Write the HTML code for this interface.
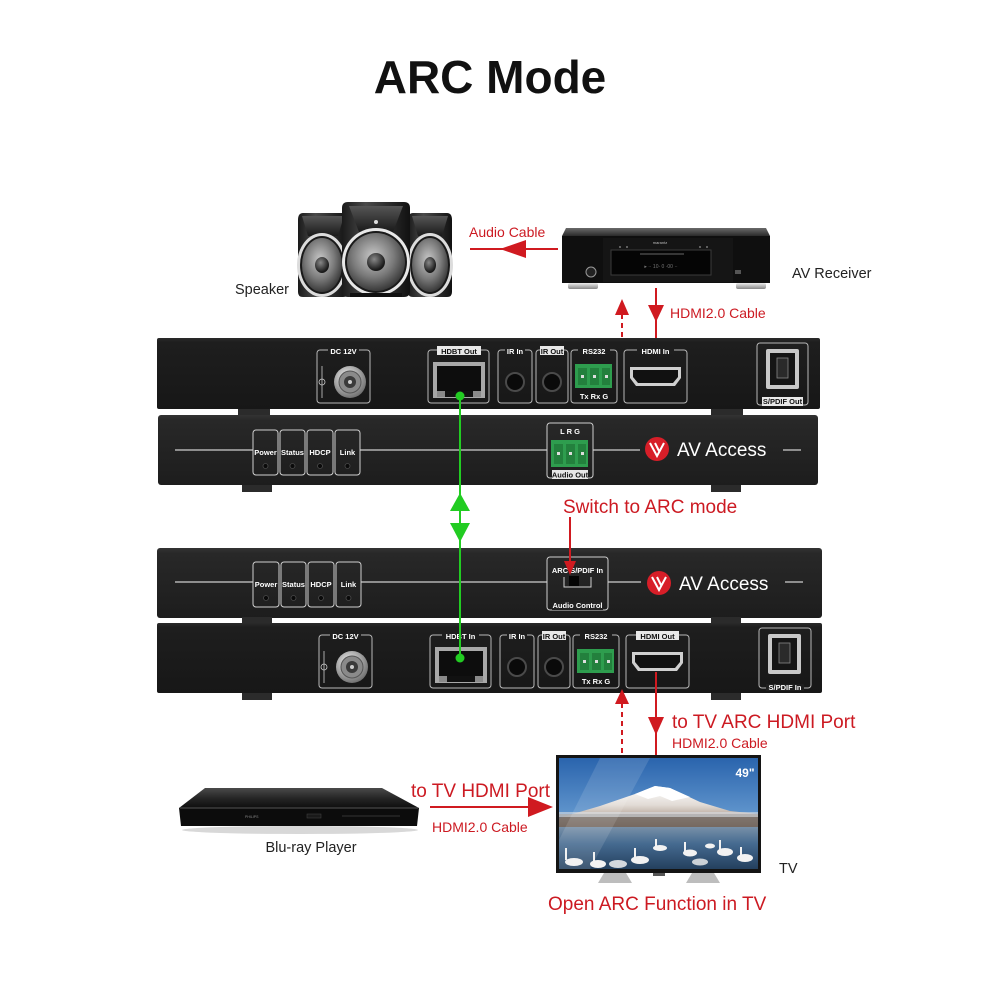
<!DOCTYPE html>
<html><head><meta charset="utf-8"><style>
html,body{margin:0;padding:0;background:#fff;}
svg{display:block;}
text{font-family:"Liberation Sans",Arial,sans-serif;}
.lb{font-family:"Liberation Sans Narrow","Liberation Sans",Arial,sans-serif;font-weight:bold;fill:#fff;font-size:7.5px;}
.lbd{font-family:"Liberation Sans Narrow","Liberation Sans",Arial,sans-serif;font-weight:bold;fill:#111;font-size:7.5px;}
.red{fill:#cc1a22;}
</style></head><body>
<svg width="1000" height="1000" viewBox="0 0 1000 1000" xmlns="http://www.w3.org/2000/svg">
<defs>
<linearGradient id="spk" x1="0" y1="0" x2="1" y2="0">
<stop offset="0" stop-color="#1a1a1a"/><stop offset="0.35" stop-color="#4a4a4a"/><stop offset="0.7" stop-color="#2a2a2a"/><stop offset="1" stop-color="#111"/>
</linearGradient>
<radialGradient id="cone" cx="0.45" cy="0.4" r="0.6">
<stop offset="0" stop-color="#c8c8c8"/><stop offset="0.6" stop-color="#7a7a7a"/><stop offset="1" stop-color="#3a3a3a"/>
</radialGradient>
<radialGradient id="dome" cx="0.4" cy="0.35" r="0.6">
<stop offset="0" stop-color="#888"/><stop offset="1" stop-color="#1a1a1a"/>
</radialGradient>
<linearGradient id="horn" x1="0" y1="0" x2="0" y2="1">
<stop offset="0" stop-color="#555"/><stop offset="1" stop-color="#1a1a1a"/>
</linearGradient>
<linearGradient id="silver" x1="0" y1="0" x2="0" y2="1">
<stop offset="0" stop-color="#eee"/><stop offset="1" stop-color="#888"/>
</linearGradient>
<radialGradient id="jack" cx="0.4" cy="0.35" r="0.7">
<stop offset="0" stop-color="#f0f0f0"/><stop offset="1" stop-color="#6a6a6a"/>
</radialGradient>
<linearGradient id="back" x1="0" y1="0" x2="0" y2="1">
<stop offset="0" stop-color="#2a2a2a"/><stop offset="0.06" stop-color="#1e1e1e"/><stop offset="1" stop-color="#171717"/>
</linearGradient>
<linearGradient id="front" x1="0" y1="0" x2="0" y2="1">
<stop offset="0" stop-color="#333"/><stop offset="0.08" stop-color="#282828"/><stop offset="1" stop-color="#1d1d1d"/>
</linearGradient>
<linearGradient id="sky" x1="0" y1="0" x2="0" y2="1">
<stop offset="0" stop-color="#2a64ad"/><stop offset="0.5" stop-color="#5f94cc"/><stop offset="1" stop-color="#b4cde3"/>
</linearGradient>
<linearGradient id="water" x1="0" y1="0" x2="0" y2="1">
<stop offset="0" stop-color="#7890a8"/><stop offset="0.4" stop-color="#456a90"/><stop offset="1" stop-color="#24405e"/>
</linearGradient>
<linearGradient id="mtn" x1="0" y1="0" x2="0" y2="1">
<stop offset="0" stop-color="#ffffff"/><stop offset="0.45" stop-color="#e2dcd6"/><stop offset="1" stop-color="#8a6e5c"/>
</linearGradient>
<linearGradient id="bluray" x1="0" y1="0" x2="0" y2="1">
<stop offset="0" stop-color="#4a4a4a"/><stop offset="0.5" stop-color="#262626"/><stop offset="1" stop-color="#0e0e0e"/>
</linearGradient>
<linearGradient id="recTop" x1="0" y1="0" x2="0" y2="1">
<stop offset="0" stop-color="#6a6a6a"/><stop offset="1" stop-color="#2a2a2a"/>
</linearGradient>
</defs>

<!-- Title -->
<text x="490" y="93" font-size="46" font-weight="bold" text-anchor="middle" fill="#111">ARC Mode</text>

<!-- Speakers -->
<g>
<path d="M303,213 H343 Q348,213 348,220 V292 Q348,297 343,297 H303 Q298,297 298,292 V220 Q298,213 303,213 Z" fill="url(#spk)"/>
<polygon points="302,216 344,216 338,236 308,236" fill="url(#horn)"/>
<ellipse cx="322" cy="265" rx="25" ry="32" fill="#dcdcdc"/>
<ellipse cx="322" cy="265" rx="22" ry="29" fill="#1a1a1a"/>
<ellipse cx="322" cy="265" rx="20" ry="27" fill="url(#cone)"/>
<ellipse cx="322" cy="265" rx="7" ry="8" fill="url(#dome)"/>

<path d="M413,213 H447 Q452,213 452,220 V292 Q452,297 447,297 H413 Q408,297 408,292 V220 Q408,213 413,213 Z" fill="url(#spk)"/>
<polygon points="412,216 448,216 442,236 418,236" fill="url(#horn)"/>
<ellipse cx="430" cy="265" rx="23" ry="32" fill="#dcdcdc"/>
<ellipse cx="430" cy="265" rx="20" ry="29" fill="#1a1a1a"/>
<ellipse cx="430" cy="265" rx="18" ry="27" fill="url(#cone)"/>
<ellipse cx="430" cy="265" rx="6" ry="8" fill="url(#dome)"/>

<path d="M348,202 H404 Q410,202 410,208 V291 Q410,297 404,297 H348 Q342,297 342,291 V208 Q342,202 348,202 Z" fill="url(#spk)"/>
<polygon points="349,206 403,206 393,232 359,232" fill="url(#horn)"/>
<circle cx="376" cy="222" r="2" fill="#ddd"/>
<circle cx="376" cy="262" r="34" fill="#e8e8e8"/>
<circle cx="376" cy="262" r="31" fill="#1a1a1a"/>
<circle cx="376" cy="262" r="29" fill="url(#cone)"/>
<circle cx="376" cy="262" r="9" fill="url(#dome)"/>
<rect x="350" y="293" width="52" height="4" fill="#111"/>
</g>
<text x="235" y="294" font-size="14.5" fill="#222">Speaker</text>

<!-- Audio cable arrow -->
<line x1="470" y1="249" x2="558" y2="249" stroke="#d01a20" stroke-width="2"/>
<polygon points="500,249 526,240 526,258" fill="#d01a20"/>
<text x="469" y="237" font-size="14" class="red">Audio Cable</text>

<!-- AV Receiver -->
<g>
<polygon points="566,228 766,228 770,236 562,236" fill="url(#recTop)"/>
<rect x="562" y="236" width="208" height="47" fill="#0f0f0f"/>
<rect x="603" y="238" width="130" height="44" fill="#151515"/>
<rect x="611" y="250" width="100" height="25" fill="#050505" stroke="#3a3a3a" stroke-width="1"/>
<line x1="640" y1="254" x2="684" y2="254" stroke="#666" stroke-width="1"/>
<text x="660" y="244" font-size="4" fill="#bbb" text-anchor="middle">marantz</text>
<text x="661" y="268" font-size="5" fill="#777" text-anchor="middle">▸ ·· 10·  0 ·00 ··</text>
<circle cx="591" cy="272" r="5" fill="#222" stroke="#999" stroke-width="1"/>
<circle cx="620" cy="247" r="1" fill="#777"/><circle cx="627" cy="247" r="1" fill="#777"/>
<circle cx="700" cy="247" r="1" fill="#777"/><circle cx="707" cy="247" r="1" fill="#777"/>
<rect x="735" y="270" width="6" height="4" fill="#555"/>
<rect x="568" y="283" width="30" height="6" rx="2" fill="url(#silver)"/>
<rect x="736" y="283" width="30" height="6" rx="2" fill="url(#silver)"/>
</g>
<text x="792" y="278" font-size="14.5" fill="#222">AV Receiver</text>

<!-- HDMI arrow from receiver -->
<line x1="656" y1="288" x2="656" y2="376" stroke="#d01a20" stroke-width="2"/>
<polygon points="648,305 664,305 656,322" fill="#d01a20"/>
<text x="670" y="318" font-size="14" class="red">HDMI2.0 Cable</text>
<line x1="622" y1="314" x2="622" y2="376" stroke="#d01a20" stroke-width="2" stroke-dasharray="5,4"/>
<polygon points="622,299 615,315 629,315" fill="#d01a20"/>

<!-- ===== Device 1 back ===== -->
<rect x="157" y="338" width="663" height="71" rx="2" fill="url(#back)"/>
<rect x="238" y="409" width="32" height="6" fill="#2b2b2b"/>
<rect x="711" y="409" width="32" height="6" fill="#2b2b2b"/>
<g fill="none" stroke="#b8b8b8" stroke-width="1">
<rect x="317" y="350" width="53" height="53" rx="3"/>
<rect x="428" y="350" width="61" height="53" rx="3"/>
<rect x="498" y="350" width="34" height="53" rx="3"/>
<rect x="536" y="350" width="32" height="53" rx="3"/>
<rect x="571" y="350" width="46" height="53" rx="3"/>
<rect x="624" y="350" width="63" height="53" rx="3"/>
<rect x="757" y="343" width="51" height="62" rx="3"/>
</g>
<rect x="328" y="347" width="31" height="7" fill="#1e1e1e"/><text x="343.5" y="354" class="lb" text-anchor="middle">DC 12V</text>
<rect x="437" y="346" width="44" height="9" fill="#e8e8e8"/><text x="459" y="354" class="lbd" text-anchor="middle">HDBT Out</text>
<rect x="505" y="347" width="20" height="7" fill="#1e1e1e"/><text x="515" y="354" class="lb" text-anchor="middle">IR In</text>
<rect x="540" y="346" width="24" height="9" fill="#e8e8e8"/><text x="552" y="354" class="lbd" text-anchor="middle">IR Out</text>
<rect x="578" y="347" width="32" height="7" fill="#1e1e1e"/><text x="594" y="354" class="lb" text-anchor="middle">RS232</text>
<rect x="637" y="347" width="37" height="7" fill="#1e1e1e"/><text x="655.5" y="354" class="lb" text-anchor="middle">HDMI In</text>
<rect x="762" y="397" width="41" height="9" fill="#e8e8e8"/><text x="782.5" y="404" class="lbd" text-anchor="middle">S/PDIF Out</text>
<line x1="322" y1="366" x2="322" y2="398" stroke="#ccc" stroke-width="0.8"/>
<circle cx="322" cy="382" r="3" fill="none" stroke="#ccc" stroke-width="0.8"/>
<circle cx="350" cy="382" r="16" fill="url(#jack)"/>
<circle cx="350" cy="382" r="11" fill="#8a8a8a" stroke="#555"/>
<circle cx="350" cy="382" r="6" fill="#3a3a3a"/>
<circle cx="350" cy="382" r="2" fill="#ccc"/>
<rect x="433" y="362" width="52" height="36" fill="#a8a8a8"/>
<rect x="437" y="366" width="44" height="25" fill="#0d0d0d"/>
<rect x="437" y="391" width="8" height="6" fill="#8a8a8a"/>
<rect x="473" y="391" width="8" height="6" fill="#8a8a8a"/>
<rect x="445" y="391" width="28" height="6" fill="#111"/>
<circle cx="515" cy="382" r="9" fill="#0a0a0a" stroke="#4a4a4a" stroke-width="2"/>
<circle cx="552" cy="382" r="9" fill="#0a0a0a" stroke="#4a4a4a" stroke-width="2"/>
<rect x="575" y="364" width="37" height="24" fill="#2e9d4e"/>
<rect x="578" y="368" width="9" height="17" fill="#23803d"/><rect x="590" y="368" width="9" height="17" fill="#23803d"/><rect x="602" y="368" width="8" height="17" fill="#23803d"/>
<rect x="581" y="375" width="3" height="3" fill="#ddd"/><rect x="593" y="375" width="3" height="3" fill="#ddd"/><rect x="605" y="375" width="3" height="3" fill="#ddd"/>
<text x="594" y="399" class="lb" font-size="6.5" text-anchor="middle">Tx  Rx  G</text>
<path d="M630,367 H681 V378 L675,386 H636 L630,378 Z" fill="#cfcfcf"/>
<path d="M633,370 H678 V377 L673,383 H638 L633,377 Z" fill="#111"/>
<rect x="766" y="349" width="33" height="40" rx="2" fill="#c8c8c8"/>
<rect x="770" y="353" width="25" height="32" fill="#151515"/>
<rect x="777" y="358" width="11" height="20" fill="#2a2a2a" stroke="#888" stroke-width="0.8"/>

<!-- ===== Device 1 front ===== -->
<rect x="158" y="415" width="660" height="70" rx="3" fill="url(#front)"/>
<rect x="242" y="485" width="30" height="7" fill="#2b2b2b"/>
<rect x="711" y="485" width="30" height="7" fill="#2b2b2b"/>
<g stroke="#cfcfcf" stroke-width="1.3">
<line x1="175" y1="450" x2="253" y2="450"/>
<line x1="360" y1="450" x2="547" y2="450"/>
<line x1="593" y1="450" x2="640" y2="450"/>
<line x1="783" y1="450" x2="801" y2="450"/>
</g>
<g fill="none" stroke="#cfcfcf" stroke-width="1">
<rect x="253" y="430" width="25" height="45" rx="3"/>
<rect x="280" y="430" width="25" height="45" rx="3"/>
<rect x="307" y="430" width="26" height="45" rx="3"/>
<rect x="335" y="430" width="25" height="45" rx="3"/>
</g>
<text x="265.5" y="455" class="lb" font-size="7" text-anchor="middle">Power</text>
<text x="292.5" y="455" class="lb" font-size="7" text-anchor="middle">Status</text>
<text x="320" y="455" class="lb" font-size="7" text-anchor="middle">HDCP</text>
<text x="347.5" y="455" class="lb" font-size="7" text-anchor="middle">Link</text>
<g fill="#0a0a0a" stroke="#4a4a4a" stroke-width="0.8">
<circle cx="265.5" cy="466" r="2.5"/><circle cx="292.5" cy="466" r="2.5"/><circle cx="320" cy="466" r="2.5"/><circle cx="347.5" cy="466" r="2.5"/>
</g>
<rect x="547" y="423" width="46" height="55" rx="3" fill="none" stroke="#cfcfcf" stroke-width="1"/>
<text x="570" y="434" class="lb" font-size="7" text-anchor="middle">L  R  G</text>
<rect x="551" y="440" width="37" height="27" fill="#2e9d4e"/>
<rect x="554" y="444" width="9" height="20" fill="#23803d"/><rect x="566" y="444" width="9" height="20" fill="#23803d"/><rect x="578" y="444" width="8" height="20" fill="#23803d"/>
<rect x="557" y="452" width="3" height="3" fill="#ddd"/><rect x="569" y="452" width="3" height="3" fill="#ddd"/><rect x="581" y="452" width="3" height="3" fill="#ddd"/>
<rect x="552" y="470" width="36" height="9" fill="#e8e8e8"/><text x="570" y="477.5" class="lbd" text-anchor="middle">Audio Out</text>
<circle cx="657" cy="449" r="12" fill="#d71e28"/>
<path d="M650,443 L657,456 L664,443 M655,443 L659,451" fill="none" stroke="#fff" stroke-width="2"/>
<text x="677" y="456" font-size="19" fill="#fff">AV Access</text>

<!-- ===== Device 2 front ===== -->
<rect x="157" y="548" width="665" height="70" rx="3" fill="url(#front)"/>
<rect x="242" y="617" width="30" height="6" fill="#2b2b2b"/>
<rect x="711" y="617" width="30" height="6" fill="#2b2b2b"/>
<g stroke="#cfcfcf" stroke-width="1.3">
<line x1="175" y1="582" x2="253" y2="582"/>
<line x1="361" y1="582" x2="547" y2="582"/>
<line x1="608" y1="582" x2="641" y2="582"/>
<line x1="785" y1="582" x2="803" y2="582"/>
</g>
<g fill="none" stroke="#cfcfcf" stroke-width="1">
<rect x="253" y="562" width="26" height="45" rx="3"/>
<rect x="281" y="562" width="25" height="45" rx="3"/>
<rect x="308" y="562" width="26" height="45" rx="3"/>
<rect x="336" y="562" width="25" height="45" rx="3"/>
</g>
<text x="266" y="587" class="lb" font-size="7" text-anchor="middle">Power</text>
<text x="293.5" y="587" class="lb" font-size="7" text-anchor="middle">Status</text>
<text x="321" y="587" class="lb" font-size="7" text-anchor="middle">HDCP</text>
<text x="348.5" y="587" class="lb" font-size="7" text-anchor="middle">Link</text>
<g fill="#0a0a0a" stroke="#4a4a4a" stroke-width="0.8">
<circle cx="266" cy="598" r="2.5"/><circle cx="293.5" cy="598" r="2.5"/><circle cx="321" cy="598" r="2.5"/><circle cx="348.5" cy="598" r="2.5"/>
</g>
<rect x="547" y="557" width="61" height="53" rx="3" fill="none" stroke="#cfcfcf" stroke-width="1"/>
<text x="577.5" y="573" class="lb" font-size="7" text-anchor="middle">ARC S/PDIF In</text>
<path d="M564,577 V587 H591 V577" fill="none" stroke="#cfcfcf" stroke-width="1"/>
<rect x="569" y="576" width="10" height="10" fill="#050505"/>
<rect x="552" y="602" width="51" height="8" fill="#222"/>
<text x="577.5" y="608" class="lb" text-anchor="middle">Audio Control</text>
<circle cx="659" cy="583" r="12" fill="#d71e28"/>
<path d="M652,577 L659,590 L666,577 M657,577 L661,585" fill="none" stroke="#fff" stroke-width="2"/>
<text x="679" y="590" font-size="19" fill="#fff">AV Access</text>

<!-- ===== Device 2 back ===== -->
<rect x="157" y="623" width="665" height="70" rx="2" fill="url(#back)"/>
<rect x="242" y="693" width="30" height="7" fill="#2b2b2b"/>
<rect x="711" y="693" width="30" height="7" fill="#2b2b2b"/>
<g fill="none" stroke="#b8b8b8" stroke-width="1">
<rect x="319" y="635" width="53" height="53" rx="3"/>
<rect x="430" y="635" width="61" height="53" rx="3"/>
<rect x="500" y="635" width="34" height="53" rx="3"/>
<rect x="538" y="635" width="32" height="53" rx="3"/>
<rect x="573" y="635" width="46" height="53" rx="3"/>
<rect x="626" y="635" width="63" height="53" rx="3"/>
<rect x="759" y="628" width="52" height="60" rx="3"/>
</g>
<rect x="330" y="632" width="31" height="7" fill="#1e1e1e"/><text x="345.5" y="639" class="lb" text-anchor="middle">DC 12V</text>
<rect x="442" y="632" width="37" height="7" fill="#1e1e1e"/><text x="460.5" y="639" class="lb" text-anchor="middle">HDBT In</text>
<rect x="507" y="632" width="20" height="7" fill="#1e1e1e"/><text x="517" y="639" class="lb" text-anchor="middle">IR In</text>
<rect x="542" y="631" width="24" height="9" fill="#e8e8e8"/><text x="554" y="639" class="lbd" text-anchor="middle">IR Out</text>
<rect x="580" y="632" width="32" height="7" fill="#1e1e1e"/><text x="596" y="639" class="lb" text-anchor="middle">RS232</text>
<rect x="636" y="631" width="43" height="9" fill="#e8e8e8"/><text x="657.5" y="639" class="lbd" text-anchor="middle">HDMI Out</text>
<rect x="766" y="684" width="38" height="7" fill="#1e1e1e"/><text x="785" y="690" class="lb" text-anchor="middle">S/PDIF In</text>
<line x1="324" y1="651" x2="324" y2="683" stroke="#ccc" stroke-width="0.8"/>
<circle cx="324" cy="667" r="3" fill="none" stroke="#ccc" stroke-width="0.8"/>
<circle cx="352" cy="667" r="16" fill="url(#jack)"/>
<circle cx="352" cy="667" r="11" fill="#8a8a8a" stroke="#555"/>
<circle cx="352" cy="667" r="6" fill="#3a3a3a"/>
<circle cx="352" cy="667" r="2" fill="#ccc"/>
<rect x="435" y="647" width="52" height="36" fill="#a8a8a8"/>
<rect x="439" y="651" width="44" height="25" fill="#0d0d0d"/>
<rect x="439" y="676" width="8" height="6" fill="#8a8a8a"/>
<rect x="475" y="676" width="8" height="6" fill="#8a8a8a"/>
<rect x="447" y="676" width="28" height="6" fill="#111"/>
<circle cx="517" cy="667" r="9" fill="#0a0a0a" stroke="#4a4a4a" stroke-width="2"/>
<circle cx="554" cy="667" r="9" fill="#0a0a0a" stroke="#4a4a4a" stroke-width="2"/>
<rect x="577" y="649" width="37" height="24" fill="#2e9d4e"/>
<rect x="580" y="653" width="9" height="17" fill="#23803d"/><rect x="592" y="653" width="9" height="17" fill="#23803d"/><rect x="604" y="653" width="8" height="17" fill="#23803d"/>
<rect x="583" y="660" width="3" height="3" fill="#ddd"/><rect x="595" y="660" width="3" height="3" fill="#ddd"/><rect x="607" y="660" width="3" height="3" fill="#ddd"/>
<text x="596" y="684" class="lb" font-size="6.5" text-anchor="middle">Tx  Rx  G</text>
<path d="M632,652 H683 V663 L677,671 H638 L632,663 Z" fill="#cfcfcf"/>
<path d="M635,655 H680 V662 L675,668 H640 L635,662 Z" fill="#111"/>
<rect x="768" y="634" width="33" height="40" rx="2" fill="#c8c8c8"/>
<rect x="772" y="638" width="25" height="32" fill="#151515"/>
<rect x="779" y="643" width="11" height="20" fill="#2a2a2a" stroke="#888" stroke-width="0.8"/>

<!-- Green HDBT link -->
<line x1="460" y1="396" x2="460" y2="658" stroke="#22cc22" stroke-width="2"/>
<circle cx="460" cy="396" r="4.5" fill="#22cc22"/>
<circle cx="460" cy="658" r="4.5" fill="#22cc22"/>
<polygon points="460,493 450,511 470,511" fill="#22cc22"/>
<polygon points="450,523 470,523 460,542" fill="#22cc22"/>

<!-- Switch to ARC mode -->
<text x="563" y="513" font-size="19" class="red">Switch to ARC mode</text>
<line x1="570" y1="517" x2="570" y2="562" stroke="#d01a20" stroke-width="2"/>
<polygon points="564,561 576,561 570,575" fill="#d01a20"/>

<!-- Bottom arrows to TV -->
<line x1="622" y1="703" x2="622" y2="776" stroke="#d01a20" stroke-width="2" stroke-dasharray="5,4"/>
<polygon points="622,689 615,704 629,704" fill="#d01a20"/>
<line x1="656" y1="672" x2="656" y2="755" stroke="#d01a20" stroke-width="2"/>
<polygon points="648,717 664,717 656,735" fill="#d01a20"/>
<text x="672" y="728" font-size="19" class="red">to TV ARC HDMI Port</text>
<text x="672" y="748" font-size="14" class="red">HDMI2.0 Cable</text>

<!-- TV -->
<g>
<rect x="556" y="755" width="205" height="118" fill="#141414"/>
<rect x="559" y="758" width="199" height="111" fill="url(#sky)"/>
<polygon points="559,818 600,806 635,794 655,786 670,788 700,802 730,811 758,814 758,828 559,828" fill="url(#mtn)"/>
<polygon points="635,794 655,786 670,788 690,797 672,801 660,796 648,799" fill="#fff"/>
<rect x="559" y="814" width="199" height="14" fill="#6e6660" opacity="0.75"/>
<rect x="559" y="812" width="199" height="5" fill="#d8dde2" opacity="0.6"/>
<rect x="559" y="827" width="199" height="42" fill="url(#water)"/>
<polygon points="600,758 650,758 590,869 559,869 559,840" fill="#fff" opacity="0.12"/>
<g fill="#f2f2f2">
<ellipse cx="574" cy="862" rx="9" ry="4"/><rect x="565" y="848" width="2" height="12"/>
<ellipse cx="598" cy="864" rx="8" ry="4"/><rect x="593" y="852" width="2" height="10"/>
<ellipse cx="640" cy="860" rx="9" ry="4"/><rect x="634" y="848" width="2" height="11"/>
<ellipse cx="660" cy="848" rx="7" ry="3"/><rect x="655" y="839" width="2" height="8"/>
<ellipse cx="690" cy="853" rx="7" ry="3.5"/><rect x="684" y="842" width="2" height="10"/>
<ellipse cx="725" cy="852" rx="8" ry="4"/><rect x="719" y="840" width="2" height="11"/>
<ellipse cx="745" cy="858" rx="8" ry="4"/><rect x="740" y="847" width="2" height="10"/>
<ellipse cx="710" cy="846" rx="5" ry="2.5"/>
<ellipse cx="618" cy="864" rx="9" ry="4" opacity="0.85"/>
<ellipse cx="700" cy="862" rx="8" ry="3.5" opacity="0.8"/>
</g>
<text x="745" y="777" font-size="12" font-weight="bold" fill="#fff" text-anchor="middle">49"</text>
<polygon points="604,873 626,873 632,883 598,883" fill="#bdbdbd"/>
<polygon points="692,873 714,873 720,883 686,883" fill="#bdbdbd"/>
<rect x="653" y="873" width="12" height="3" fill="#555"/>
</g>
<text x="779" y="873" font-size="14.5" fill="#222">TV</text>

<!-- Blu-ray player -->
<g>
<ellipse cx="300" cy="830" rx="118" ry="4" fill="#d8d8d8"/>
<polygon points="205,788 382,788 419,808 179,808" fill="url(#bluray)"/>
<polygon points="179,808 419,808 417,826 181,826" fill="#0c0c0c"/>
<line x1="180" y1="808" x2="418" y2="808" stroke="#555" stroke-width="1"/>
<text x="245" y="818" font-size="3.5" fill="#888">PHILIPS</text>
<rect x="307" y="814" width="14" height="4" fill="#1a1a1a" stroke="#444" stroke-width="0.5"/>
<line x1="342" y1="816" x2="400" y2="816" stroke="#333" stroke-width="1"/>
</g>
<text x="311" y="852" font-size="14.5" fill="#222" text-anchor="middle">Blu-ray Player</text>

<!-- to TV HDMI port arrow -->
<text x="411" y="797" font-size="19" class="red">to TV HDMI Port</text>
<line x1="430" y1="807" x2="530" y2="807" stroke="#d01a20" stroke-width="2"/>
<polygon points="528,797 528,817 553,807" fill="#d01a20"/>
<text x="432" y="832" font-size="14" class="red">HDMI2.0 Cable</text>

<!-- Open ARC -->
<text x="548" y="910" font-size="19" class="red">Open ARC Function in TV</text>
</svg>
</body></html>
